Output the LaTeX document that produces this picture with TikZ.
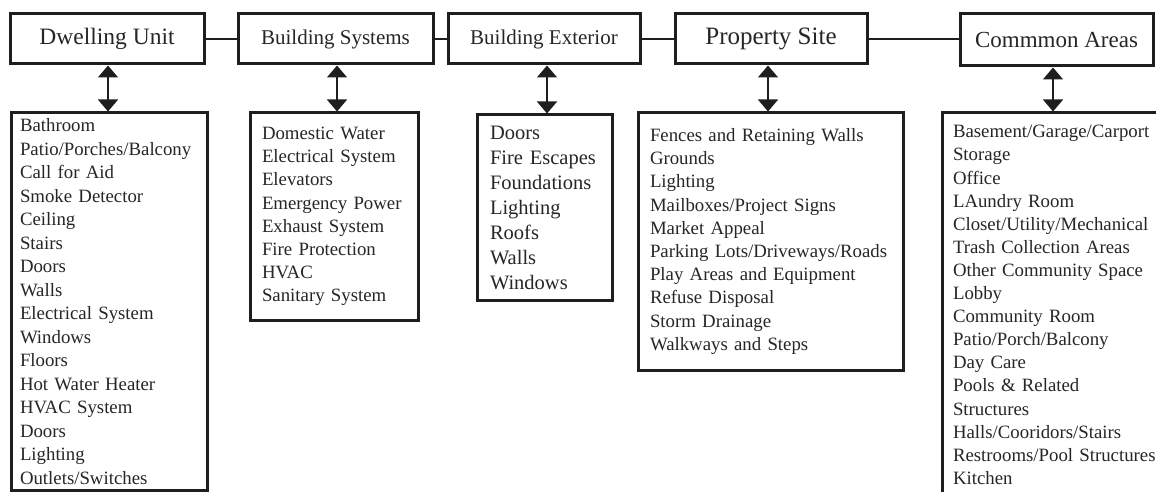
\documentclass[tikz,border=0pt]{standalone}
\usepackage{fontspec}
\setmainfont{Liberation Serif}
\usetikzlibrary{arrows.meta}
\definecolor{ink}{HTML}{1E1E1E}
\definecolor{txt}{HTML}{262626}
\tikzset{
  headbox/.style={draw=ink, line width=3pt, fill=white, text=txt, inner sep=0pt, minimum height=50pt},
  listbox/.style={draw=ink, line width=3pt, fill=white, text=txt, align=left, anchor=center},
  link/.style={draw=ink, line width=1.5pt},
  dbl/.style={draw=ink, line width=1.5pt, {Triangle[width=20pt,length=12pt]}-{Triangle[width=20pt,length=12pt]}},
  listfont/.style={font=\fontsize{18.8}{23.2}\selectfont}
}
\begin{document}
\begin{tikzpicture}[x=1pt,y=-1pt]
\useasboundingbox (0,0) rectangle (1156,492);
\clip (0,0) rectangle (1156,492);
\fill[white] (0,0) rectangle (1156,492);

% top row
\node[headbox, minimum width=194pt, font=\fontsize{23.5}{28}\selectfont] (du) at (107,39) {Dwelling Unit};
\node[headbox, minimum width=195pt, font=\fontsize{21}{25}\selectfont] (bs) at (335.5,39) {Building Systems};
\node[headbox, minimum width=192pt, font=\fontsize{21}{25}\selectfont] (be) at (544,39) {Building Exterior};
\node[headbox, minimum width=192pt, font=\fontsize{25}{30}\selectfont] (ps) at (771,39) {Property Site};
\node[headbox, minimum width=193pt, minimum height=52pt, font=\fontsize{23}{28}\selectfont] (ca) at (1056.5,40) {Commmon Areas};

% lists
\node[listbox, font=\fontsize{18.8}{23.5}\selectfont, inner xsep=9pt, text width=178pt, minimum height=377pt] (dl) at (109,301.5) {Bathroom\\Patio/Porches/Balcony\\Call for Aid\\Smoke Detector\\Ceiling\\Stairs\\Doors\\Walls\\Electrical System\\Windows\\Floors\\Hot Water Heater\\HVAC System\\Doors\\Lighting\\Outlets/Switches};

\node[listbox, listfont, inner xsep=12pt, text width=144pt, minimum height=207pt] (bsl) at (334,216.5) {Domestic Water\\Electrical System\\Elevators\\Emergency Power\\Exhaust System\\Fire Protection\\HVAC\\Sanitary System};

\node[listbox, font=\fontsize{20.5}{25}\selectfont, inner xsep=13pt, text width=109pt, minimum height=185pt] (bel) at (544.5,207.5) {Doors\\Fire Escapes\\Foundations\\Lighting\\Roofs\\Walls\\Windows};

\node[listbox, listfont, inner xsep=12pt, text width=241pt, minimum height=257pt] (psl) at (770.5,241.5) {Fences and Retaining Walls\\Grounds\\Lighting\\Mailboxes/Project Signs\\Market Appeal\\Parking Lots/Driveways/Roads\\Play Areas and Equipment\\Refuse Disposal\\Storm Drainage\\Walkways and Steps};

\node[listbox, font=\fontsize{18.8}{23.1}\selectfont, inner xsep=11pt, text width=206pt, minimum height=384pt] (cal) at (1056,305) {Basement/Garage/Carport\\Storage\\Office\\LAundry Room\\Closet/Utility/Mechanical\\Trash Collection Areas\\Other Community Space\\Lobby\\Community Room\\Patio/Porch/Balcony\\Day Care\\Pools \& Related\\Structures\\Halls/Cooridors/Stairs\\Restrooms/Pool Structures\\Kitchen};

% horizontal links
\draw[link] (du.east) -- (bs.west);
\draw[link] (bs.east) -- (be.west);
\draw[link] (be.east) -- (ps.west);
\draw[link] (ps.east) -- (ps.east -| ca.west);

% vertical double arrows
\coordinate (a1) at ([xshift=1pt]du.south);
\coordinate (a2) at ([xshift=1.5pt]bs.south);
\coordinate (a3) at ([xshift=3pt]be.south);
\coordinate (a4) at ([xshift=-3pt]ps.south);
\coordinate (a5) at ([xshift=-3.5pt]ca.south);
\draw[dbl] (a1) -- (a1 |- dl.north);
\draw[dbl] (a2) -- (a2 |- bsl.north);
\draw[dbl] (a3) -- (a3 |- bel.north);
\draw[dbl] (a4) -- (a4 |- psl.north);
\draw[dbl] (a5) -- (a5 |- cal.north);
\end{tikzpicture}
\end{document}
